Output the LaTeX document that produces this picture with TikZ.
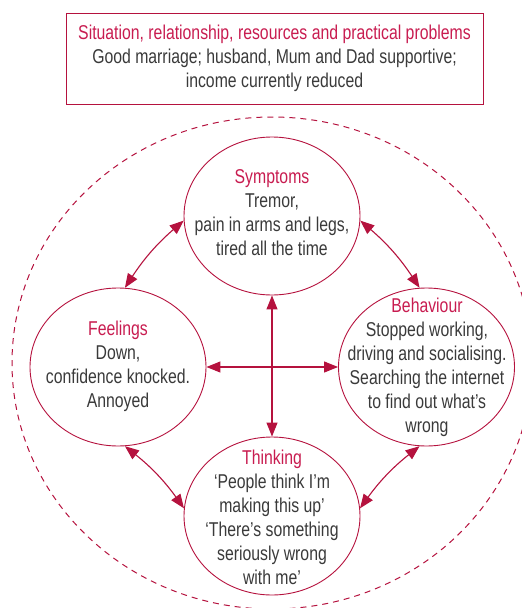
\documentclass[tikz,border=0pt]{standalone}
\usepackage{fontspec}
\setmainfont{Liberation Sans}[FakeStretch=0.79]
\usetikzlibrary{arrows.meta,shapes.geometric}
\definecolor{accent}{RGB}{181,18,62}
\definecolor{titlered}{RGB}{200,28,80}
\definecolor{bodytext}{RGB}{58,58,58}
\begin{document}
\begin{tikzpicture}[x=1pt,y=-1pt,
  bubble/.style={ellipse, draw=accent, line width=0.9pt, minimum width=176pt, minimum height=158pt, inner sep=0pt},
  bubbletext/.style={align=center, text=bodytext, font=\fontsize{20}{24}\selectfont, inner sep=0pt},
  link/.style={draw=accent, line width=1.1pt, {Triangle[length=14pt,width=11pt]}-{Triangle[length=14pt,width=11pt]}},
  infobox/.style={draw=accent, line width=0.9pt, minimum width=417pt, minimum height=91pt, align=center, text=bodytext, font=\fontsize{20}{24}\selectfont, inner sep=0pt},
  outerring/.style={draw=accent, line width=1pt, dash pattern=on 6pt off 5pt}]
\useasboundingbox (0,0) rectangle (522,608);

\draw[outerring] (272,363) ellipse [x radius=260, y radius=246];

\node[infobox] (situation) at (274.5,58.5) {{\color{titlered}Situation, relationship, resources and practical problems}\\Good marriage; husband, Mum and Dad supportive;\\income currently reduced};

\node[bubble] (symptoms) at (272,216) {};
\node[bubble] (feelings) at (118,367) {};
\node[bubble] (behaviour) at (426.5,367) {};
\node[bubble] (thinking) at (272,516) {};

\node[bubbletext] (symptomstext) at (272,213) {{\color{titlered}Symptoms}\\Tremor,\\pain in arms and legs,\\tired all the time};
\node[bubbletext] (feelingstext) at (118,366) {{\color{titlered}Feelings}\\Down,\\confidence knocked.\\Annoyed};
\node[bubbletext] (behaviourtext) at (427,367) {{\color{titlered}Behaviour}\\Stopped working,\\driving and socialising.\\Searching the internet\\to find out what’s\\wrong};
\node[bubbletext] (thinkingtext) at (272,517) {{\color{titlered}Thinking}\\‘People think I’m\\making this up’\\‘There’s something\\seriously wrong\\with me’};

\draw[link] (symptoms.south) -- (thinking.north);
\draw[link] (feelings.east) -- (behaviour.west);
\draw[link] (symptoms.183) to[bend right=8] (feelings.85);
\draw[link] (symptoms.357) to[bend left=8] (behaviour.95);
\draw[link] (feelings.275) to[bend left=8] (thinking.175);
\draw[link] (behaviour.265) to[bend right=8] (thinking.5);
\end{tikzpicture}
\end{document}
